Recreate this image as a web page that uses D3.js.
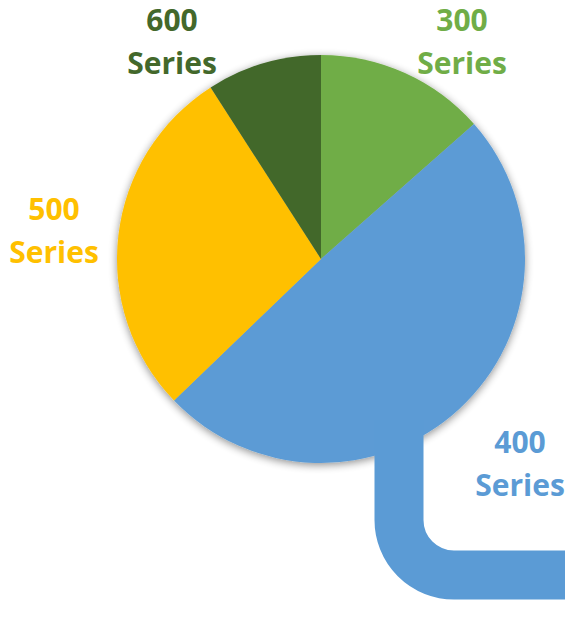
<!DOCTYPE html>
<html><head><meta charset="utf-8">
<script src="https://cdn.jsdelivr.net/npm/d3@7"></script>
<style>html,body{margin:0;padding:0;background:#fff;}svg{display:block;}</style>
</head><body>
<svg id="chart" width="565" height="625"></svg>
<script>
const categories = ["300 Series", "400 Series", "500 Series", "600 Series"];
const values = [13.5, 49.3, 28.1, 9.1];
const colors = ["#70AD47", "#5B9BD5", "#FFC000", "#43682B"];

const svg = d3.select("#chart");
const cx = 321, cy = 259, R = 204;

const defs = svg.append("defs");
const f = defs.append("filter").attr("id", "sh").attr("x", "-20%").attr("y", "-20%").attr("width", "140%").attr("height", "140%");
f.append("feGaussianBlur").attr("in", "SourceAlpha").attr("stdDeviation", 4).attr("result", "b");
f.append("feOffset").attr("in", "b").attr("dx", 0).attr("dy", 2).attr("result", "o");
f.append("feComponentTransfer").attr("in", "o").attr("result", "t")
  .append("feFuncA").attr("type", "linear").attr("slope", 0.45);
const m = f.append("feMerge");
m.append("feMergeNode").attr("in", "t");
m.append("feMergeNode").attr("in", "SourceGraphic");

const pie = d3.pie().sort(null).value(d => d).startAngle(0).endAngle(2 * Math.PI);
const arc = d3.arc().innerRadius(0).outerRadius(R);
const arcs = pie(values);

const g = svg.append("g").attr("transform", `translate(${cx},${cy})`);
g.append("g").attr("filter", "url(#sh)")
  .selectAll("path").data(arcs).join("path")
  .attr("d", arc)
  .attr("fill", (d, i) => colors[i]);

// decorative pipe leaving the 400 Series slice
const px = 399, pyTop = 420, py = 575, pr = 55;
const pipe = d3.path();
pipe.moveTo(px, pyTop);
pipe.lineTo(px, py - pr);
pipe.arcTo(px, py, px + pr, py, pr);
pipe.lineTo(600, py);
svg.append("path").attr("d", pipe.toString())
  .attr("fill", "none").attr("stroke", colors[1]).attr("stroke-width", 49);

// labels
const labelPos = [[462, 31], [520, 453], [54, 220], [172, 31]];
const lab = svg.append("g")
  .attr("font-family", "'Open Sans', 'Noto Sans', sans-serif")
  .attr("font-weight", "bold").attr("font-size", 30).attr("text-anchor", "middle");
categories.forEach((c, i) => {
  const parts = c.split(" ");
  const t = lab.append("text").attr("fill", colors[i])
    .attr("x", labelPos[i][0]).attr("y", labelPos[i][1]);
  t.append("tspan").attr("x", labelPos[i][0]).text(parts[0]);
  t.append("tspan").attr("x", labelPos[i][0]).attr("dy", 43).text(parts[1]);
});
</script>
</body></html>
